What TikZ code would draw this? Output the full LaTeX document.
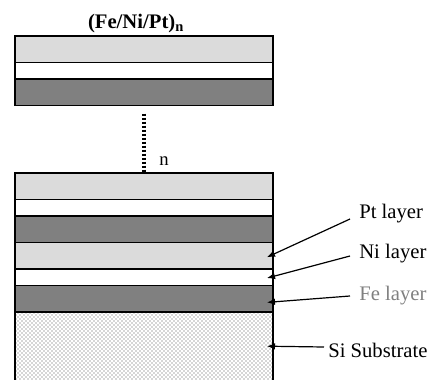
\documentclass[tikz,border=0pt]{standalone}
\usepackage{fontspec}
\setmainfont{Liberation Serif}
\usetikzlibrary{arrows.meta}
\usetikzlibrary{patterns}
\usetikzlibrary{positioning}

\begin{document}
\begin{tikzpicture}
  [
    x = 0.75pt, y = -0.75pt,
    node distance = 0pt,
    layer/.style = {draw, line width = 1.1pt, rectangle, minimum width = 193.5pt,
                    inner sep = 0pt, outer sep = 0pt},
    ptbox/.style = {layer, fill = black!14, minimum height = 19.9pt},
    nibox/.style = {layer, fill = white, minimum height = 12.4pt},
    febox/.style = {layer, fill = black!50, minimum height = 19.9pt},
    subbox/.style = {layer, fill = black!7, pattern = crosshatch dots, pattern color = black!70,
                     minimum height = 60pt},
    label/.style = {font = \fontsize{15.5}{18}\selectfont, inner sep = 0pt, anchor = base west},
    title/.style = {font = \fontsize{15.5}{18}\selectfont\bfseries, inner sep = 0pt},
    period/.style = {line width = 2.4pt, dash pattern = on 1.6pt off 1.4pt},
    arrow/.style = {-{Latex[length = 6pt, width = 5pt]}, line width = 0.9pt},
  ]
  \clip (0,0) rectangle (429,379);

  % top period
  \node[title] (title) at (136,24) {(Fe/Ni/Pt)\textsubscript{n}};
  \node[ptbox, anchor = north west] (pt_top) at (15,36) {};
  \node[nibox] [below = of pt_top] (ni_top) {};
  \node[febox] [below = of ni_top] (fe_top) {};

  % bottom stack
  \node[ptbox, anchor = north west] (pt_one) at (15,173) {};
  \node[nibox] [below = of pt_one] (ni_one) {};
  \node[febox] [below = of ni_one] (fe_one) {};
  \node[ptbox] [below = of fe_one] (pt_two) {};
  \node[nibox] [below = of pt_two] (ni_two) {};
  \node[febox] [below = of ni_two] (fe_two) {};
  \node[subbox] [below = of fe_two] (substrate) {};

  \draw[period] ([yshift = -6pt]fe_top.south) -- (pt_one.north);
  \node[label, font = \fontsize{14}{17}\selectfont] (n_label) at (159,165) {n};

  % labels
  \node[label] (pt_label) at (359,218) {Pt layer};
  \node[label] (ni_label) at (359,258) {Ni layer};
  \node[label, text = black!50] (fe_label) at (359,300) {Fe layer};
  \node[label] (si_label) at (328,357) {Si Substrate};

  \draw[arrow] ([xshift = -6.75pt, yshift = -0.75pt]pt_label.base west)
    -- ([xshift = -4.5pt, yshift = -1pt]pt_two.east);
  \draw[arrow] ([xshift = -6.75pt, yshift = 1.5pt]ni_label.base west)
    -- ([xshift = -4.5pt, yshift = -0.5pt]ni_two.east);
  \draw[arrow] ([xshift = -6.75pt, yshift = 3pt]fe_label.base west)
    -- ([xshift = -4.5pt, yshift = -2.6pt]fe_two.east);
  \draw[arrow] ([xshift = -3pt, yshift = 7.5pt]si_label.base west)
    -- ([xshift = -4.5pt, yshift = -25.5pt]substrate.north east);
\end{tikzpicture}
\end{document}
